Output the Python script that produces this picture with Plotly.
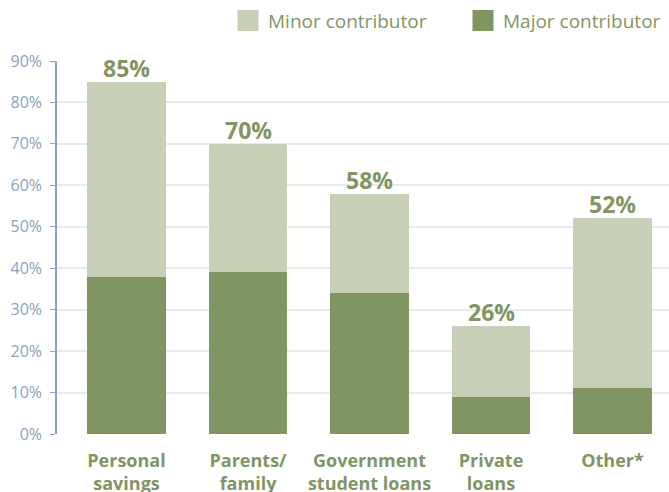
import plotly.graph_objects as go

categories = ["Personal<br>savings", "Parents/<br>family", "Government<br>student loans", "Private<br>loans", "Other*"]
major = [38, 39, 34, 9, 11]
totals = [85, 70, 58, 26, 52]
minor = [t - m for t, m in zip(totals, major)]
total_labels = [f"{t}%" for t in totals]
y_ticks = [0, 10, 20, 30, 40, 50, 60, 70, 80, 90]
y_tick_labels = [f"{v}%" for v in y_ticks]

MAJOR_C = "#7f9663"
MINOR_C = "#c7cfb6"
TEXT_C = "#7f9663"
AXIS_C = "#8aa2c2"
GRID_C = "#e6eaf1"
FONT = "Open Sans"

fig = go.Figure()
fig.add_trace(go.Bar(x=categories, y=major, marker=dict(color=MAJOR_C, line=dict(width=0)),
                     width=0.65, showlegend=False, hoverinfo="skip"))
fig.add_trace(go.Bar(x=categories, y=minor, marker=dict(color=MINOR_C, line=dict(width=0)),
                     width=0.65, showlegend=False, hoverinfo="skip"))
# legend entries
fig.add_trace(go.Scatter(x=[None], y=[None], mode="markers", name="Minor contributor",
                         legend="legend",
                         marker=dict(symbol="square", size=16, color=MINOR_C,
                                     line=dict(width=5, color=MINOR_C))))
fig.add_trace(go.Scatter(x=[None], y=[None], mode="markers", name="Major contributor",
                         legend="legend2",
                         marker=dict(symbol="square", size=16, color=MAJOR_C,
                                     line=dict(width=5, color=MAJOR_C))))

for cat, tot, lab in zip(categories, totals, total_labels):
    fig.add_annotation(x=cat, y=tot, text=lab, showarrow=False, yanchor="bottom",
                       yshift=-4, font=dict(family=FONT, size=23, color=TEXT_C, weight="bold"))

legend_common = dict(orientation="h", xref="container", xanchor="left",
                     y=0.958, yref="container", yanchor="middle",
                     font=dict(family=FONT, size=19, color=TEXT_C),
                     itemwidth=30, bgcolor="rgba(0,0,0,0)")

fig.update_layout(
    width=669, height=492,
    margin=dict(l=57, r=0, t=61, b=58, autoexpand=False),
    barmode="stack",
    plot_bgcolor="white", paper_bgcolor="white",
    font=dict(family=FONT),
    legend=dict(x=228 / 669, **legend_common),
    legend2=dict(x=463 / 669, **legend_common),
    xaxis=dict(type="category", range=[-0.572, 4.465], showgrid=False, showline=False,
               ticks="", tickfont=dict(family=FONT, size=18, color=TEXT_C, weight="bold"),
               ticklabelstandoff=14, zeroline=False),
    yaxis=dict(range=[0, 90], tickvals=y_ticks, ticktext=y_tick_labels,
               showgrid=True, gridcolor=GRID_C, gridwidth=2,
               showline=True, linecolor=AXIS_C, linewidth=1.5,
               ticks="outside", ticklen=5, tickcolor=AXIS_C,
               tickfont=dict(family=FONT, size=16, color=AXIS_C),
               ticklabelstandoff=5, zeroline=False),
)
fig.write_html("out.html", config={"displayModeBar": False},
               post_script="document.body.style.margin='0';")
